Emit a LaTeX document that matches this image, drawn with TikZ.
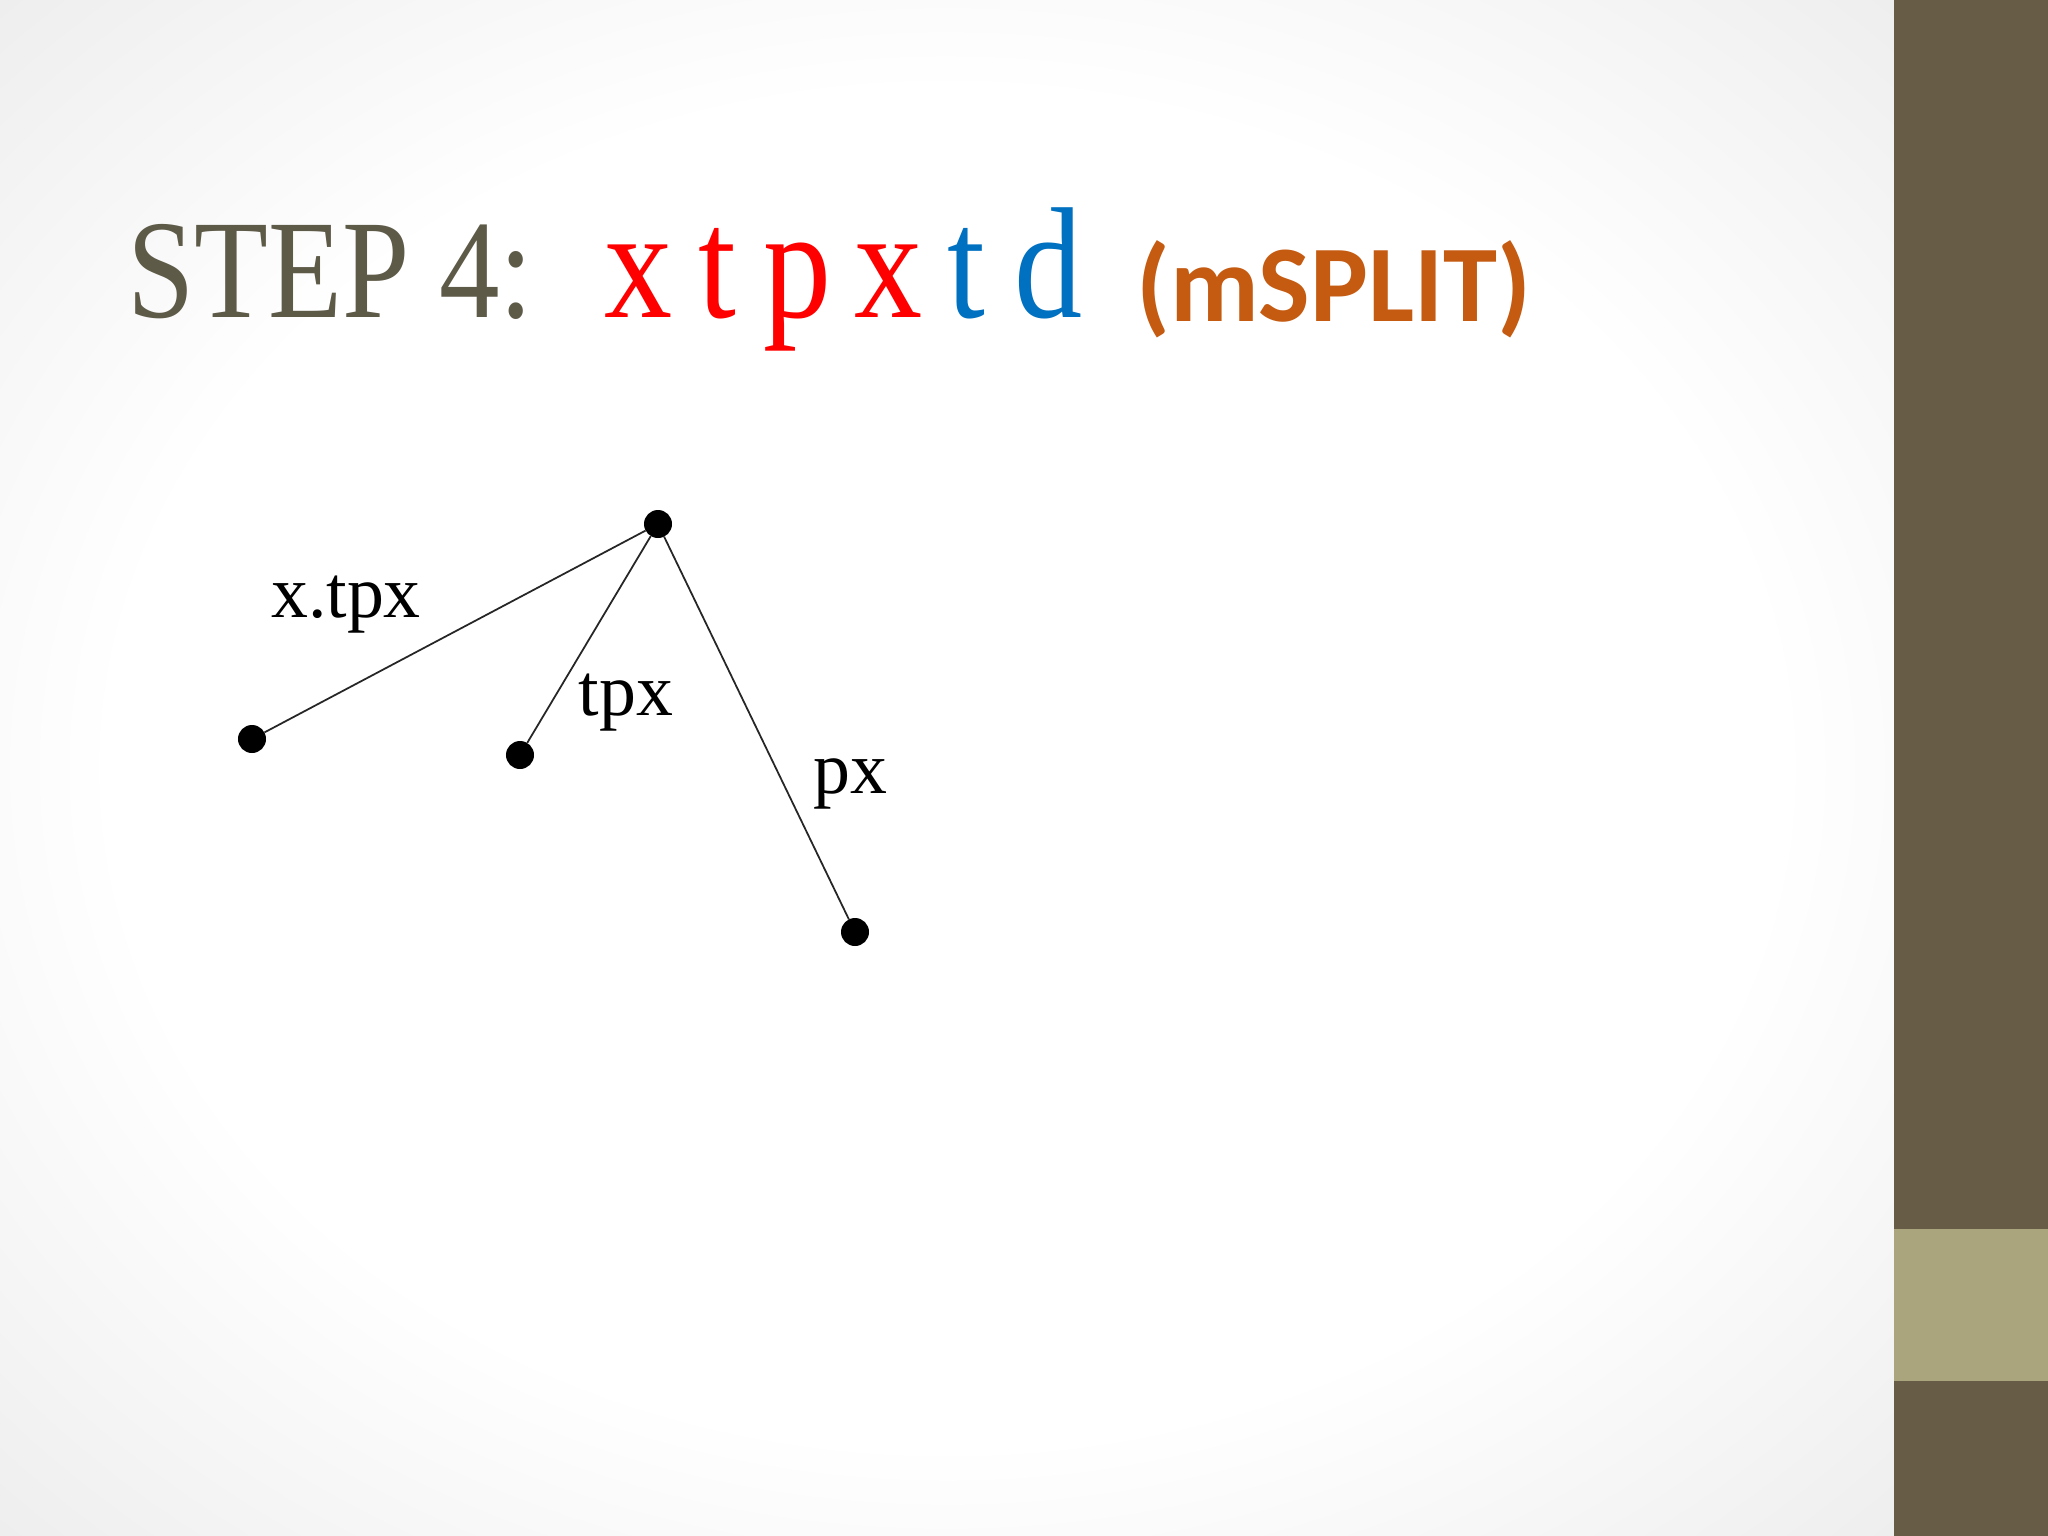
\documentclass[tikz,border=0pt]{standalone}
\usepackage{fontspec}
\setmainfont{Liberation Serif}
\newfontfamily\titlefont[FakeStretch=0.86]{Liberation Serif}
\newfontfamily\calfont{Carlito}
\definecolor{olive}{RGB}{94,90,72}
\definecolor{bardark}{RGB}{103,93,71}
\definecolor{barlight}{RGB}{170,165,124}
\definecolor{mred}{RGB}{255,0,0}
\definecolor{mblue}{RGB}{0,112,192}
\definecolor{morange}{RGB}{197,90,17}
\pgfdeclareradialshading{vignette}{\pgfpoint{0bp}{0bp}}{color(0bp)=(white); color(22bp)=(white); color(36bp)=(black!7); color(50bp)=(black!16)}
\begin{document}
\begin{tikzpicture}[x=0.01cm,y=-0.01cm,inner sep=0pt,outer sep=0pt,
leaf/.style={circle,fill=black,minimum size=0.28cm},
edge/.style={line width=0.5pt,black!85},
lbl/.style={font=\fontsize{21}{24}\selectfont}]
\useasboundingbox (0,0) rectangle (2048,1536);
\shade[shading=vignette] (0,0) rectangle (1894,1536);
\fill[bardark] (1894,0) rectangle (2048,1536);
\fill[barlight] (1894,1229) rectangle (2048,1381);

% title
\draw (127,317) node[anchor=base west,text=olive,font=\titlefont\fontsize{40}{44}\selectfont] (step) {STEP 4:};
\foreach \ch/\col/\xx [count=\i] in {x/mred/639,t/mred/717,p/mred/798,x/mred/889,t/mblue/966,d/mblue/1049}
  \draw (\xx,317) node[anchor=base,text=\col,font=\titlefont\fontsize{45}{48}\selectfont] (w\i) {\ch};
\draw (1136,321) node[anchor=base west,text=morange,font=\calfont\bfseries\fontsize{31}{36}\selectfont] (split) {(mSPLIT)};

% tree
\draw (658,524) node[leaf] (root) {};
\draw (252,739) node[leaf] (a) {};
\draw (520,755) node[leaf] (b) {};
\draw (855,932) node[leaf] (c) {};
\draw[edge] (root) -- (a);
\draw[edge] (root) -- (b);
\draw[edge] (root) -- (c);
\draw (346,605) node[lbl] (la) {x.tpx};
\draw (626,703) node[lbl] (lb) {tpx};
\draw (850,784) node[lbl] (lc) {px};
\end{tikzpicture}
\end{document}
